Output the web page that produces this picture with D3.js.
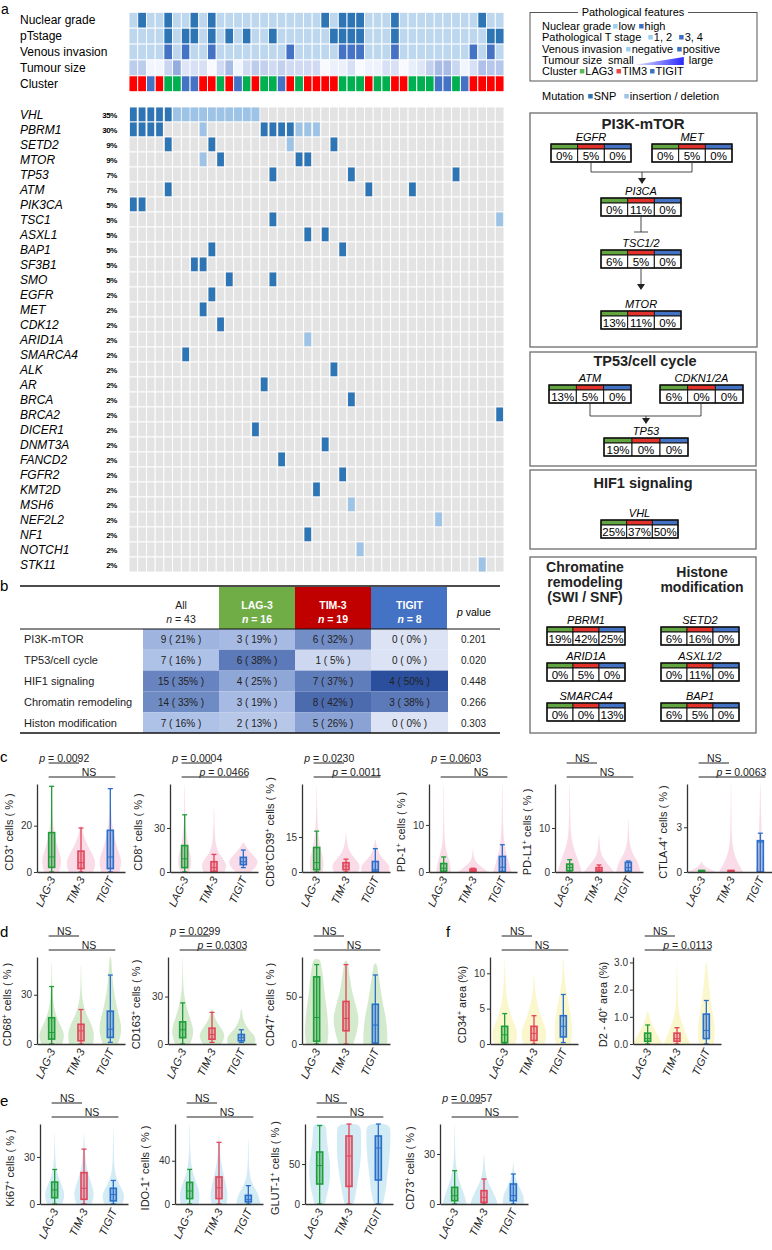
<!DOCTYPE html>
<html><head><meta charset="utf-8">
<script src="https://cdn.jsdelivr.net/npm/d3@7"></script>
<style>body{margin:0;background:#fff}svg{display:block;font-family:"Liberation Sans",Arial,Helvetica,sans-serif}</style>
</head><body><svg id="c" width="772" height="1250"></svg>
<script>
// ================= DATA =================
const nSamples = 43;
const clusterSeq = ["R","R","B","R","G","G","B","B","R","R","G","R","B","G","R","G","G","B","R","G","R","R","R","R","G","G","G","R","G","G","R","R","G","G","G","B","B","G","B","R","R","R","R"];
const nuclearHigh = [1,4,7,9,22,24,25,26,30,40];
const tStageHigh = [4,6,7,9,11,13,16,23,24,25,26,30,41,42];
const venousPos = [4,6,9,18,24,25,26,30,39,41];
const tumourSize = [0.45,0.45,0.05,0.05,0.35,0.75,0.2,0.25,0.25,0.0,0.3,0.6,0.05,0.3,0.45,
  0.4,0.3,0.4,0.3,0.3,0.3,0.3,0.0,0.1,0.1,0.25,0.0,0.08,0.08,0.25,0.25,0.0,0.12,0.2,0.4,0.6,0.6,0.35,0.05,0.25,0.55,0.5,0.5];
const annRows = ["Nuclear grade","pTstage","Venous invasion","Tumour size","Cluster"];

const genes = ["VHL","PBRM1","SETD2","MTOR","TP53","ATM","PIK3CA","TSC1","ASXL1","BAP1","SF3B1","SMO","EGFR","MET","CDK12","ARID1A","SMARCA4","ALK","AR","BRCA","BRCA2","DICER1","DNMT3A","FANCD2","FGFR2","KMT2D","MSH6","NEF2L2","NF1","NOTCH1","STK11"];
const genePct = ["35%","30%","9%","9%","7%","7%","5%","5%","5%","5%","5%","5%","2%","2%","2%","2%","2%","2%","2%","2%","2%","2%","2%","2%","2%","2%","2%","2%","2%","2%","2%"];
const snpCols = [[0,1,2,3,4],[0,1,2,3,15,16,17,18],[4,9,23],[10,19,20],[16,25,37],[4,27,32],[0,1],[16],[20,22],[9,24],[7,8],[11,16],[9],[8],[10],[],[6],[23],[15],[25],[42],[14],[22],[17],[24],[21],[],[],[20],[],[]];
const indelCols = [[5,6,7,8,9,10,11,12,13,14],[8,19,20,21],[18],[8],[],[],[],[42],[],[],[],[],[],[],[],[20],[],[],[],[],[],[],[],[],[],[],[25],[35],[],[26],[40]];

// pathway mini tables
const pathGenes = ["EGFR","MET","PI3CA","TSC1/2","MTOR","ATM","CDKN1/2A","TP53","VHL","PBRM1","SETD2","ARID1A","ASXL1/2","SMARCA4","BAP1"];
const pathPct = [[0,5,0],[0,5,0],[0,11,0],[6,5,0],[13,11,0],[13,5,0],[6,0,0],[19,0,0],[25,37,50],[19,42,25],[6,16,0],[0,5,0],[0,11,0],[0,0,13],[6,5,0]];

// table b
const pathways = ["PI3K-mTOR","TP53/cell cycle","HIF1 signaling","Chromatin remodeling","Histon modification"];
const countAll = [9,7,15,14,7],   pctAll = [21,16,35,33,16];
const countLAG = [3,6,4,3,2],     pctLAG = [19,38,25,19,13];
const countTIM = [6,1,7,8,5],     pctTIM = [32,5,37,42,26];
const countTIGIT = [0,0,4,3,0],   pctTIGIT = [0,0,50,38,0];
const pValues = ["0.201","0.020","0.448","0.266","0.303"];
const groupNames = ["LAG-3","TIM-3","TIGIT"];

// violin plots: box = [min, q1, median, q3, max]; vio = [lo, hi, densities...]
const cd3 = {max:38, ticks:[0,20], lab:["CD3","+"," cells ( % )"], sig:["p = 0.0092","NS"],
  box:[[0,2,6.5,17,37],[0,1.5,4,9,19],[0,1.5,6.5,18,36]],
  vio:[[0,38,0.5,0.7,0.45,0.25,0.12,0.06,0.04,0.03,0.01],[0,20,0.8,1.0,0.85,0.55,0.3,0.15,0.05],[0,38,0.6,0.8,0.5,0.3,0.15,0.08,0.05,0.03,0.01]]};
const cd8 = {max:60, ticks:[0,30], lab:["CD8","+"," cells ( % )"], sig:["p = 0.0004","p = 0.0466"],
  box:[[0,3,9,18,39],[0,0.5,3,7,12],[3,5,7,10,15]],
  vio:[[0,60,0.3,0.5,0.3,0.15,0.08,0.04,0.03,0.02,0.01],[0,45,0.7,0.9,0.4,0.15,0.08,0.05,0.03,0.02,0.01],[0,20,0.5,0.9,1.0,0.6,0.25,0.05]]};
const cd39 = {max:37.7, ticks:[0,15], lab:["CD8","+","CD39","+"," cells ( % )"], sig:["p = 0.0230","p = 0.0011"],
  box:[[0,1,4,10.5,17.5],[0,1,2.5,4,5.5],[0,0.3,1,4.5,10]],
  vio:[[0,37,0.4,0.5,0.3,0.15,0.08,0.05,0.03,0.02,0.01],[0,17,0.8,1.0,0.6,0.25,0.1,0.04,0.01],[0,14,0.9,1.0,0.5,0.2,0.08,0.02]]};
const pd1 = {max:18.7, ticks:[0,10], lab:["PD-1","+"," cells ( % )"], sig:["p = 0.0603","NS"],
  box:[[0,0.2,0.8,1.8,3.2],[0,0.1,0.3,0.6,0.8],[0,0.1,1,3.3,5.8]],
  vio:[[0,18.5,0.5,0.4,0.15,0.06,0.04,0.03,0.02,0.02,0.01],[0,5,1.0,0.6,0.2,0.08,0.03,0.01],[0,18.5,0.6,0.4,0.2,0.1,0.06,0.04,0.03,0.02,0.01]]};
const pdl1 = {max:20, ticks:[0,10], lab:["PD-L1","+"," cells ( % )"], sig:["NS","NS"],
  box:[[0,0.3,1,1.8,2.8],[0,0.2,0.5,1,1.6],[0,0.2,1,2.2,2.5]],
  vio:[[0,20,0.8,0.6,0.3,0.12,0.06,0.04,0.03,0.02,0.01],[0,8.5,1.0,0.6,0.2,0.08,0.04,0.01],[0,12,0.8,0.7,0.3,0.1,0.05,0.03,0.01]]};
const ctla4 = {max:5.9, ticks:[0,3], fmt:"d", lab:["CTLA-4","+"," cells ( % )"], sig:["NS","p = 0.0063"],
  box:[[0,0,0.05,0.1,0.1],[0,0,0.05,0.1,0.1],[0,0,2,2.1,2.6]],
  vio:[[0,0.7,1.0,0.4,0.1,0.02],[0,5.9,0.8,0.15,0.05,0.03,0.02,0.01],[0,5.9,0.3,0.15,0.1,0.08,0.05,0.03,0.01]]};
const cd68 = {max:53, ticks:[0,30], lab:["CD68","+"," cells ( % )"], sig:["NS","NS"],
  box:[[0,3,7,16,35],[0,2,8,12,21],[1,4,9,20,42]],
  vio:[[0,50,0.7,0.9,0.5,0.25,0.12,0.06,0.03,0.02,0.01],[0,48,0.8,0.9,0.7,0.35,0.15,0.06,0.03,0.02,0.01],[0,53,0.5,0.75,0.7,0.5,0.35,0.22,0.15,0.1,0.05]]};
const cd163 = {max:55, ticks:[0,30], lab:["CD163","+"," cells ( % )"], sig:["p = 0.0299","p = 0.0303"],
  box:[[0,4,9,14,26],[1,3,6,10,20],[1,2,4,6,9]],
  vio:[[0,55,0.5,0.8,0.5,0.25,0.08,0.03,0.02,0.01],[0,22,0.6,0.9,0.7,0.35,0.15,0.05],[0,22,0.9,1.0,0.5,0.2,0.08,0.03]]};
const cd47 = {max:92, ticks:[0,50], lab:["CD47","+"," cells ( % )"], sig:["NS","NS"],
  box:[[0,3,28,71,84],[0,14,27,45,84],[0,1,20,42,73]],
  vio:[[0,90,0.7,0.8,0.75,0.7,0.6,0.5,0.45,0.35,0.25],[0,88,0.5,0.7,0.85,0.8,0.6,0.4,0.3,0.2,0.1],[0,85,0.8,0.8,0.75,0.65,0.5,0.4,0.3,0.2,0.1]]};
const cd34 = {max:12.3, ticks:[0,5,10], lab:["CD34","+"," area (%)"], sig:["NS","NS"],
  box:[[0,0.2,1.3,2.5,4.3],[0,0.5,1.5,2.5,4],[0.2,1,2.5,4,7]],
  vio:[[0,12,0.7,0.9,0.5,0.25,0.12,0.06,0.03,0.01],[0,10,0.7,0.9,0.55,0.3,0.12,0.05,0.01],[0,12,0.5,0.6,0.55,0.4,0.25,0.12,0.05,0.02]]};
const d240 = {max:3.2, ticks:[0,1,2,3], fmt:".1f", lab:["D2 - 40","+"," area (%)"], sig:["NS","p = 0.0113"],
  box:[[0,0.1,0.2,0.4,0.7],[0,0.1,0.2,0.4,0.6],[0,0.2,0.5,1.1,1.6]],
  vio:[[0,1.2,1.0,0.6,0.2,0.05],[0,3.0,0.9,0.4,0.1,0.05,0.03,0.01],[0,3.0,0.5,0.6,0.4,0.25,0.12,0.05]]};
const ki67 = {max:51, ticks:[0,30], lab:["Ki67","+"," cells ( % )"], sig:["NS","NS"],
  box:[[0,4,9,14,22],[0,3,10,20,35],[0,2,6,10,15]],
  vio:[[0,45,0.5,0.7,0.5,0.25,0.1,0.05,0.03,0.02,0.01],[0,45,0.5,0.7,0.55,0.35,0.2,0.1,0.06,0.03,0.01],[0,48,0.6,0.8,0.4,0.15,0.06,0.04,0.03,0.02,0.01]]};
const ido1 = {max:74, ticks:[0,40], lab:["IDO-1","+"," cells ( % )"], sig:["NS","NS"],
  box:[[0,5,12,20,32],[0,5,15,25,57],[0,2,4,8,17]],
  vio:[[0,74,0.6,0.7,0.4,0.15,0.06,0.03,0.02,0.01],[0,65,0.5,0.6,0.45,0.3,0.15,0.08,0.04,0.01],[0,60,0.8,0.7,0.3,0.1,0.05,0.03,0.02,0.01]]};
const glut1 = {max:100, ticks:[0,50], lab:["GLUT-1","+"," cells ( % )"], sig:["NS","NS"],
  box:[[0,25,48,65,98],[0,22,60,85,100],[0,30,70,85,100]],
  vio:[[0,100,0.35,0.5,0.65,0.7,0.7,0.6,0.5,0.45,0.45],[0,100,0.3,0.45,0.55,0.65,0.75,0.8,0.8,0.8,0.8],[0,100,0.3,0.45,0.55,0.6,0.7,0.75,0.8,0.8,0.8]]};
const cd73 = {max:48, ticks:[0,30], lab:["CD73","+"," cells ( % )"], sig:["p = 0.0957","NS"],
  box:[[0,2,5,10,20],[0,1,4,8,15],[0,2,5,12,18]],
  vio:[[0,48,0.8,0.6,0.3,0.12,0.05,0.03,0.02,0.01],[0,30,0.9,0.7,0.3,0.1,0.05,0.01],[0,25,0.7,0.7,0.4,0.15,0.05,0.01]]};

// ================= LAYOUT / STYLE =================
const svg = d3.select("#c");
const C = {light:"#bdd7ee", dark:"#2e75b6", ven:"#4472c4", R:"#ff0000", G:"#00b050", B:"#4472c4",
  bg:"#e3e3e3", snp:"#2e75b6", indel:"#9dc3e6", mg:"#62a43f", mr:"#e0312b", mb:"#4372c4"};
const grpCol = ["#1f9e3a","#e0455a","#2a6fc9"];

function letter(t,x,y,s){svg.append("text").attr("x",x).attr("y",y).attr("font-size",s||15).text(t);}
letter("a",1,14,14); letter("b",0,591); letter("c",0,762); letter("d",0,937); letter("e",0,1106); letter("f",446,937);

// ---------- heatmap annotations ----------
const xS = d3.scaleBand().domain(d3.range(nSamples)).range([129,504]);
const yAnn = d3.scaleBand().domain(annRows).range([12.3,91.7]);
const tumourCol = d3.interpolateRgb("#f8faff","#7393d6");
function annFill(r,i){
  if(r===0) return nuclearHigh.includes(i)?C.dark:C.light;
  if(r===1) return tStageHigh.includes(i)?C.dark:C.light;
  if(r===2) return venousPos.includes(i)?C.ven:C.light;
  if(r===3) return tumourCol(tumourSize[i]);
  return C[clusterSeq[i]];
}
const gA = svg.append("g");
annRows.forEach((row,r)=>{
  gA.append("text").attr("x",20).attr("y",yAnn(row)+yAnn.bandwidth()/2+4).attr("font-size",12).text(row);
  gA.selectAll(null).data(d3.range(nSamples)).join("rect")
    .attr("x",i=>xS(i)).attr("y",yAnn(row)).attr("width",xS.bandwidth()).attr("height",yAnn.bandwidth())
    .attr("fill",i=>annFill(r,i)).attr("stroke","#fff").attr("stroke-width",0.9);
});

// ---------- oncoprint ----------
const yG = d3.scaleBand().domain(genes).range([107,572]);
const gO = svg.append("g");
genes.forEach((gn,k)=>{
  const yy = yG(gn), h = yG.bandwidth();
  gO.append("text").attr("x",20).attr("y",yy+h/2+4).attr("font-size",12).attr("font-style","italic").text(gn);
  gO.append("text").attr("x",117).attr("y",yy+h/2+3).attr("font-size",8).attr("font-weight","bold").attr("text-anchor","end").attr("letter-spacing",-0.4).text(genePct[k]);
  gO.selectAll(null).data(d3.range(nSamples)).join("rect")
    .attr("x",i=>xS(i)).attr("y",yy).attr("width",xS.bandwidth()).attr("height",h)
    .attr("fill",C.bg).attr("stroke","#fff").attr("stroke-width",0.9);
  gO.selectAll(null).data(snpCols[k]).join("rect")
    .attr("x",i=>xS(i)+1).attr("y",yy+0.5).attr("width",xS.bandwidth()-2).attr("height",h-1).attr("fill",C.snp);
  gO.selectAll(null).data(indelCols[k]).join("rect")
    .attr("x",i=>xS(i)+(genes[k]==="VHL"?0.45:1)).attr("y",yy+0.5).attr("width",xS.bandwidth()-(genes[k]==="VHL"?0.9:2)).attr("height",h-1).attr("fill",C.indel);
});

// ---------- legend ----------
function seq(g,x,y,parts,size){
  let cx=x;
  parts.forEach(p=>{
    if(typeof p==="string"){
      const t=g.append("text").attr("x",cx).attr("y",y).attr("font-size",size).text(p);
      cx+=t.node().getComputedTextLength();
    } else if(p.sq){
      cx+=(p.pre||2);
      g.append("rect").attr("x",cx).attr("y",y-6).attr("width",4.5).attr("height",4.5).attr("fill",p.sq);
      cx+=5.5;
    } else if(p.gap){ cx+=p.gap; }
    else if(p.tri){
      const defs=svg.append("defs");
      const lg=defs.append("linearGradient").attr("id","tg");
      lg.append("stop").attr("offset","0%").attr("stop-color","#e8e8ff");
      lg.append("stop").attr("offset","100%").attr("stop-color","#2a2aff");
      g.append("polygon").attr("points",`${cx},${y+1} ${cx+50},${y-7} ${cx+50},${y+1}`).attr("fill","url(#tg)");
      cx+=55;
    }
  });
}
const gL = svg.append("g");
gL.append("rect").attr("x",530).attr("y",12.5).attr("width",227).attr("height",68.5).attr("fill","none").attr("stroke","#555").attr("stroke-width",1);
gL.append("rect").attr("x",578).attr("y",6).attr("width",110).attr("height",12).attr("fill","#fff");
gL.append("text").attr("x",633).attr("y",16).attr("text-anchor","middle").attr("font-size",11).text("Pathological features");
seq(gL,542,30,["Nuclear grade",{sq:"#9dd0f0"},"low",{sq:"#3d72c2",pre:4},"high"],11);
seq(gL,542,41,["Pathological T stage",{sq:"#9dd0f0",pre:7},"1, 2",{sq:"#3d72c2",pre:7},"3, 4"],11);
seq(gL,542,53,["Venous invasion",{sq:"#9dd0f0",pre:4},"negative",{sq:"#3d72c2",pre:4},"positive"],11);
seq(gL,542,64,["Tumour size",{gap:6},"small",{tri:1},"large"],11);
seq(gL,542,75,["Cluster",{sq:"#5cb85c",pre:3},"LAG3",{sq:"#ee4444",pre:3},"TIM3",{sq:"#3d72c2",pre:3},"TIGIT"],11);
seq(gL,542,100,["Mutation",{sq:C.snp,pre:4},"SNP",{sq:C.indel,pre:8},"insertion / deletion"],11);

// ---------- pathway boxes ----------
const gP = svg.append("g");
function box(x,y,w,h){gP.append("rect").attr("x",x).attr("y",y).attr("width",w).attr("height",h).attr("fill","none").attr("stroke","#777").attr("stroke-width",1.4);}
box(530,113,227,234); box(530,352,226,114); box(530,470,226,79); box(530,557,226,176);
function title(t,x,y,s){gP.append("text").attr("x",x).attr("y",y).attr("text-anchor","middle").attr("font-size",s||15).attr("font-weight","bold").attr("fill","#222").text(t);}
title("PI3K-mTOR",643,129); title("TP53/cell cycle",645,366,14.5); title("HIF1 signaling",643,488,14.5);
title("Chromatine",585,572,14); title("remodeling",585,587,14); title("(SWI / SNF)",585,602,14);
title("Histone",702,577,14); title("modification",702,592,14);

const miniPos = [[551,144],[652,144],[601,198],[601,250],[601,311],[549,385],[660,385],[604,438],[601,520],[547,627],[661,627],[547,663],[661,663],[547,703],[661,703]];
const miniW = [80,80,80,80,80,82,83,84,77,78,78,78,78,78,78];
const mc = [C.mg,C.mr,C.mb];
pathGenes.forEach((gn,k)=>{
  const [x,y]=miniPos[k], w=miniW[k];
  const xs = d3.scaleBand().domain([0,1,2]).range([x,x+w]);
  gP.append("text").attr("x",x+w/2).attr("y",y-3).attr("text-anchor","middle").attr("font-size",11).attr("font-style","italic").text(gn);
  [0,1,2].forEach(j=>{
    gP.append("rect").attr("x",xs(j)).attr("y",y).attr("width",xs.bandwidth()).attr("height",5).attr("fill",mc[j]).attr("stroke","#111").attr("stroke-width",0.8);
    gP.append("rect").attr("x",xs(j)).attr("y",y+5).attr("width",xs.bandwidth()).attr("height",13).attr("fill","#fff").attr("stroke","#111").attr("stroke-width",1);
    gP.append("text").attr("x",xs(j)+xs.bandwidth()/2).attr("y",y+16).attr("text-anchor","middle").attr("font-size",11.5).text(pathPct[k][j]+"%");
  });
  gP.append("rect").attr("x",x).attr("y",y).attr("width",w).attr("height",18).attr("fill","none").attr("stroke","#111").attr("stroke-width",1.4);
});
// connectors
const ln = (x1,y1,x2,y2)=>gP.append("line").attr("x1",x1).attr("y1",y1).attr("x2",x2).attr("y2",y2).attr("stroke","#333").attr("stroke-width",0.9);
const arrow=(x,y)=>gP.append("polygon").attr("points",`${x-4},${y-6} ${x+4},${y-6} ${x},${y}`).attr("fill","#222");
ln(591,162,591,172); ln(692,162,692,172); ln(591,172,692,172); ln(642,172,642,178); arrow(642,184);
ln(641,216,641,232); ln(634,232,648,232);
ln(641,268,641,284); arrow(641,290);
ln(590,403,590,416); ln(701,403,701,416); ln(590,416,701,416); ln(646,416,646,418); arrow(646,424);

// ---------- table b ----------
const gT = svg.append("g");
gT.append("line").attr("x1",20).attr("x2",500).attr("y1",586).attr("y2",586).attr("stroke","#111").attr("stroke-width",1.5);
const colX = [143,219,295,371,448];
const hdrFill = ["#70ad47","#c00000","#4472c4"];
hdrFill.forEach((f,j)=>gT.append("rect").attr("x",colX[j+1]).attr("y",587).attr("width",76).attr("height",42).attr("fill",f));
function hdr(x,t,n,white){
  const c = white?"#fff":"#222", fw = white?"bold":"normal";
  gT.append("text").attr("x",x).attr("y",609).attr("text-anchor","middle").attr("font-size",10.5).attr("font-weight",fw).attr("fill",c).text(t);
  const tt = gT.append("text").attr("x",x).attr("y",623).attr("text-anchor","middle").attr("font-size",10.5).attr("font-weight",fw).attr("fill",c);
  tt.append("tspan").attr("font-style","italic").text("n");
  tt.append("tspan").text(" = "+n);
}
hdr(181,"All",43,false); hdr(257,"LAG-3",16,true); hdr(333,"TIM-3",19,true); hdr(409.5,"TIGIT",8,true);
const pv = gT.append("text").attr("x",457).attr("y",616).attr("font-size",10.5);
pv.append("tspan").attr("font-style","italic").text("p"); pv.append("tspan").text("  value");
const rowY = d3.scaleBand().domain(pathways).range([629,733]);
const cellCol = d3.scaleLinear().domain([0,20,50]).range(["#dbe3f4","#a3b8e2","#2c4f9d"]);
const counts=[countAll,countLAG,countTIM,countTIGIT], pcts=[pctAll,pctLAG,pctTIM,pctTIGIT];
pathways.forEach((pw,r)=>{
  const y=rowY(pw), h=rowY.bandwidth();
  gT.append("text").attr("x",24).attr("y",y+h/2+4).attr("font-size",11).attr("fill","#222").text(pw);
  for(let j=0;j<4;j++){
    gT.append("rect").attr("x",colX[j]).attr("y",y).attr("width",colX[j+1]-colX[j]).attr("height",h).attr("fill",cellCol(pcts[j][r]));
    gT.append("text").attr("x",(colX[j]+colX[j+1])/2).attr("y",y+h/2+4).attr("text-anchor","middle").attr("font-size",10).attr("fill","#222")
      .text(`${counts[j][r]} ( ${pcts[j][r]}% )`);
  }
  gT.append("text").attr("x",461).attr("y",y+h/2+4).attr("font-size",10).attr("fill","#222").text(pValues[r]);
});
gT.append("line").attr("x1",20).attr("x2",500).attr("y1",629).attr("y2",629).attr("stroke","#111").attr("stroke-width",1);
gT.append("line").attr("x1",20).attr("x2",500).attr("y1",733).attr("y2",733).attr("stroke","#111").attr("stroke-width",1.5);

// ---------- violin plots ----------
function sigText(g,x,y,t,anchor){
  const tx=g.append("text").attr("x",x).attr("y",y).attr("font-size",10.5).attr("text-anchor",anchor).attr("fill","#222");
  if(t.startsWith("p")){tx.append("tspan").attr("font-style","italic").text("p");tx.append("tspan").text(t.slice(1));}
  else tx.text(t);
}
function violinPlot(p,L,fill,op){
  const g=svg.append("g");
  const y=d3.scaleLinear().domain([0,p.max]).range([L.zero,L.top]);
  const x=d3.scaleBand().domain(groupNames).range([L.x,L.x+88]);
  const cx=i=>x(groupNames[i])+x.bandwidth()/2;
  const wS=d3.scaleLinear().domain([0,1]).range([0,15]);
  p.vio.forEach((v,i)=>{
    const lo=v[0],hi=v[1],d=v.slice(2),n=d.length;
    const pts=d.map((w,k)=>({v:lo+(hi-lo)*k/(n-1),w:w}));
    pts.push({v:hi,w:0});
    const ar=d3.area().y(q=>y(Math.min(q.v,p.max))).x0(q=>cx(i)-wS(q.w)).x1(q=>cx(i)+wS(q.w)).curve(d3.curveBasis);
    g.append("path").attr("d",ar(pts)).attr("fill",fill).attr("fill-opacity",op);
  });
  p.box.forEach((b,i)=>{
    const c=grpCol[i], X=cx(i);
    g.append("line").attr("x1",X).attr("x2",X).attr("y1",y(b[0])).attr("y2",y(b[4])).attr("stroke",c).attr("stroke-width",1.3);
    [b[0],b[4]].forEach(v=>g.append("line").attr("x1",X-2.5).attr("x2",X+2.5).attr("y1",y(v)).attr("y2",y(v)).attr("stroke",c).attr("stroke-width",1.3));
    g.append("rect").attr("x",X-3).attr("y",y(b[3])).attr("width",6).attr("height",Math.max(1.5,y(b[1])-y(b[3])))
      .attr("fill",c).attr("fill-opacity",0.35).attr("stroke",c).attr("stroke-width",1.6);
    g.append("line").attr("x1",X-3).attr("x2",X+3).attr("y1",y(b[2])).attr("y2",y(b[2])).attr("stroke",c).attr("stroke-width",1);
  });
  const ya=d3.axisLeft(y).tickValues(p.ticks).tickSize(3).tickSizeOuter(0).tickPadding(2);
  if(p.fmt) ya.tickFormat(d3.format(p.fmt));
  const gy=g.append("g").attr("transform",`translate(${L.x},0)`).call(ya);
  gy.select(".domain").attr("stroke","#333").attr("stroke-width",1.3);
  gy.selectAll("text").attr("font-size",10).attr("fill","#333").attr("font-family","inherit");
  gy.selectAll(".tick line").attr("stroke","#333");
  const xa=d3.axisBottom(x).tickSize(0).tickSizeOuter(0);
  const gx=g.append("g").attr("transform",`translate(0,${L.zero})`).call(xa);
  gx.select(".domain").attr("stroke","#333").attr("stroke-width",1.3);
  gx.selectAll("text").attr("font-size",11).attr("font-style","italic").attr("fill","#222").attr("font-family","inherit")
    .attr("y",0).attr("dy",0).attr("text-anchor","end").attr("transform","translate(4,7) rotate(-65)");
  const lab=g.append("text").attr("transform",`translate(${L.x-L.lo},${(L.top+L.zero)/2+4}) rotate(-90)`).attr("text-anchor","middle").attr("font-size",11).attr("fill","#222");
  p.lab.forEach((s,k)=>{ if(k%2===1){lab.append("tspan").attr("dy",-4).attr("font-size",7).text(s);} else {lab.append("tspan").attr("dy",k?4:0).text(s);} });
  const l1=L.top-21,l2=L.top-7;
  g.append("line").attr("x1",cx(0)-3).attr("x2",cx(1)-2).attr("y1",l1).attr("y2",l1).attr("stroke","#222").attr("stroke-width",1);
  sigText(g,(cx(0)+cx(1))/2-2,l1-1.5,p.sig[0],"middle");
  g.append("line").attr("x1",cx(0)-3).attr("x2",cx(2)+5).attr("y1",l2).attr("y2",l2).attr("stroke","#222").attr("stroke-width",1);
  if(p.sig[1]==="NS") sigText(g,(cx(0)+cx(2))/2+8,l2-1.5,"NS","middle");
  else sigText(g,cx(2)+6,l2-1.5,p.sig[1],"end");
}
const pink="#f2a9c8", green="#a9d59a", blue="#a6d8ea", yellow="#f6f09a";
const rowC={top:784,zero:872}, rowD={top:957,zero:1044}, rowE={top:1124,zero:1204};
[[cd3,37,24],[cd8,170,28],[cd39,302,28],[pd1,429,24],[pdl1,555,24],[ctla4,687,20]].forEach(([p,x,lo])=>violinPlot(p,{x,lo,...rowC},pink,0.42));
[[cd68,37,26],[cd163,168,28],[cd47,302,28]].forEach(([p,x,lo])=>violinPlot(p,{x,lo,...rowD},green,0.5));
[[cd34,490,24],[d240,633,26]].forEach(([p,x,lo])=>violinPlot(p,{x,lo,...rowD},yellow,0.5));
[[ki67,40,26],[ido1,175,26],[glut1,305,26],[cd73,440,26]].forEach(([p,x,lo])=>violinPlot(p,{x,lo,...rowE},blue,0.5));
</script></body></html>
